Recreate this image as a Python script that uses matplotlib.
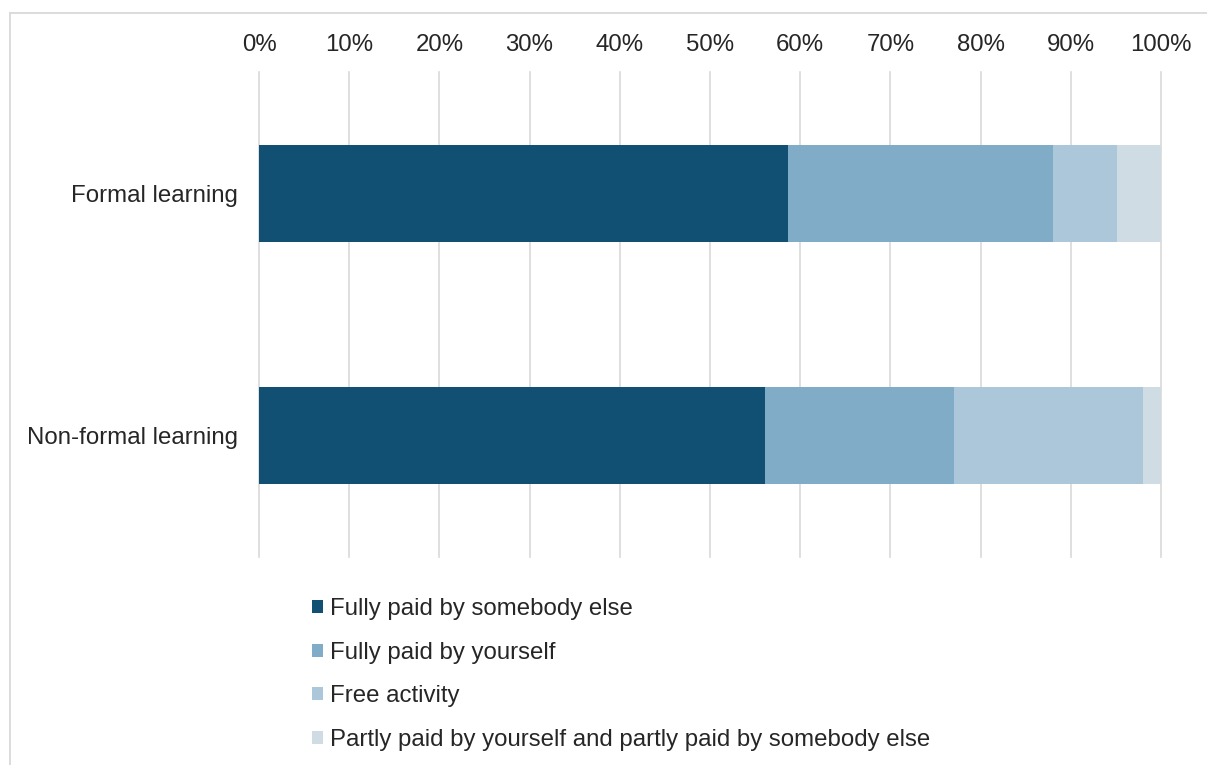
import matplotlib.pyplot as plt
from matplotlib.lines import Line2D

plt.rcParams['font.family'] = ['Liberation Sans', 'DejaVu Sans']

# share of learning activities by who paid for them (%)
categories = ["Non-formal learning", "Formal learning"]
series = [
    "Fully paid by somebody else",
    "Fully paid by yourself",
    "Free activity",
    "Partly paid by yourself and partly paid by somebody else",
]
formal = [58.7, 29.3, 7.1, 4.9]
nonformal = [56.1, 20.9, 21.0, 2.0]
colors = ["#114f73", "#81acc8", "#abc7d9", "#d0dce4"]
ticks = [0, 10, 20, 30, 40, 50, 60, 70, 80, 90, 100]

values = [nonformal, formal]
fs = 17.3

fig = plt.figure(figsize=(12.07, 7.65), dpi=100)
ax = fig.add_axes([0.2146, 0.2719, 0.7473, 0.634])

left = [0.0, 0.0]
for i, name in enumerate(series):
    vals = [v[i] for v in values]
    ax.barh(range(len(categories)), vals, left=left, height=0.4,
            color=colors[i], label=name, zorder=3)
    left = [l + v for l, v in zip(left, vals)]

ax.set_xlim(0, 100)
ax.set_ylim(-0.5, 1.5)
ax.set_xticks(ticks)
ax.set_xticklabels([f"{t}%" for t in ticks])
ax.set_yticks(range(len(categories)))
ax.set_yticklabels(categories)
ax.xaxis.tick_top()
ax.tick_params(axis='x', length=0, pad=11.5, labelsize=fs, labelcolor="#262626")
ax.tick_params(axis='y', length=0, pad=15, labelsize=fs, labelcolor="#262626")
ax.grid(axis='x', color="#d9d9d9", linewidth=1.2, zorder=0)
for gl in ax.get_xgridlines():
    gl.set_clip_on(False)
for s in ax.spines.values():
    s.set_visible(False)

leg = ax.legend(loc='upper left', bbox_to_anchor=(312 / 1207, 1 - 598 / 765),
                bbox_transform=fig.transFigure, frameon=False, fontsize=fs,
                handlelength=0.45, handleheight=0.45, handletextpad=0.3,
                labelspacing=0.9, borderpad=0, borderaxespad=0)
for t in leg.get_texts():
    t.set_color("#262626")

# outer frame (top and left edges)
fig.add_artist(Line2D([10 / 1207, 10 / 1207], [0, 1 - 13 / 765],
                      transform=fig.transFigure, color="#d9d9d9", linewidth=1.3))
fig.add_artist(Line2D([10 / 1207, 1], [1 - 13 / 765, 1 - 13 / 765],
                      transform=fig.transFigure, color="#d9d9d9", linewidth=1.3))

fig.savefig("out.png", dpi=100, facecolor="white")
